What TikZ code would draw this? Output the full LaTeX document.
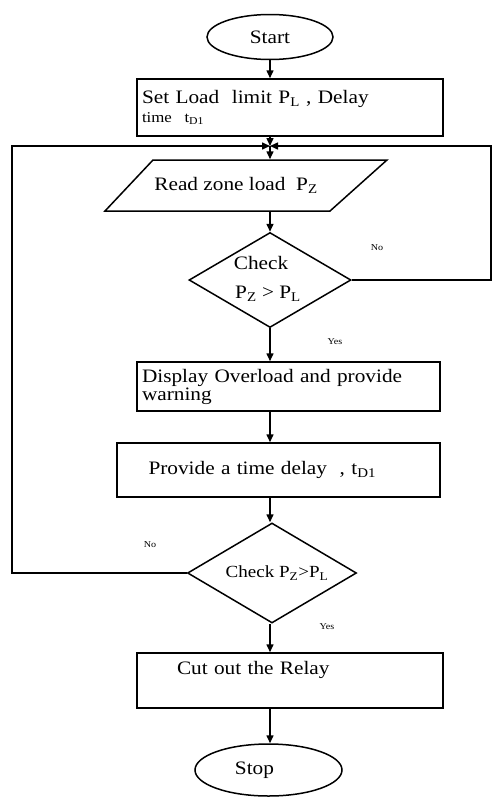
\documentclass[tikz,border=0pt]{standalone}
\usepackage{fontspec}
\setmainfont{Liberation Serif}[FakeStretch=1.12]
\usetikzlibrary{shapes.geometric,arrows.meta}
\begin{document}
\begin{tikzpicture}[x=1pt,y=-1pt,
  line width=1.5pt,
  every node/.style={font=\fontsize{19}{21}\selectfont},
  term/.style={draw,ellipse,inner sep=0pt},
  proc/.style={draw,rectangle,inner sep=0pt},
  dec/.style={draw,diamond,inner sep=0pt},
  txt/.style={inner sep=0pt},
  lbl/.style={inner sep=0pt,font=\fontsize{9}{10}\selectfont},
  arr/.style={-{Triangle[length=8pt,width=7pt]}},
]
\useasboundingbox (0,0) rectangle (493,798);

\node[term,minimum width=126pt,minimum height=45pt] (start) at (270,37) {Start};
\node[proc,minimum width=306pt,minimum height=57pt,text width=296pt,align=left]
  (set) at (290,107.5) {Set Load\ \ limit P\textsubscript{L} , Delay\\[-2pt]{\fontsize{15}{17}\selectfont time\ \ t\textsubscript{D1}}};
\coordinate (m) at (270,146);
\draw (153,160) -- (387,160) -- (330,211) -- (105,211) -- cycle;
\node[txt,minimum height=51pt] (read) at (236,185.5) {Read zone load\ \ P\textsubscript{Z}};
\node[dec,minimum width=162pt,minimum height=95pt] (c1) at (270,280) {};
\node[txt] (c1a) at (261,263) {Check};
\node[txt] (c1b) at (268,294) {P\textsubscript{Z} > P\textsubscript{L}};
\node[proc,minimum width=303pt,minimum height=49pt,text width=293pt,align=left]
  (box2) at (288.5,386.5) {Display Overload and provide\\[-3pt]warning};
\node[proc,minimum width=323pt,minimum height=54pt,text width=292pt,align=left]
  (box3) at (278.5,470) {\hspace*{16pt}Provide a time delay\ \ , t\textsubscript{D1}};
\node[dec,minimum width=169pt,minimum height=100pt] (c2) at (272,573) {};
\node[txt,font=\fontsize{17}{20}\selectfont] (c2t) at (277,573) {Check P\textsubscript{Z}>P\textsubscript{L}};
\node[proc,minimum width=306pt,minimum height=55pt,text width=266pt,align=left]
  (box4) at (290,680.5) {\hspace*{20pt}Cut out the Relay\\[4pt]\mbox{}};
\node[term,minimum width=147pt,minimum height=52pt] (stop) at (268.5,770) {Stop\hspace*{28pt}};

\coordinate (R) at (491,146);
\coordinate (L) at (12,146);

\node[lbl] (no1) at (377,248) {No};
\node[lbl] (yes1) at (335,342) {Yes};
\node[lbl] (no2) at (150,545) {No};
\node[lbl] (yes2) at (327,627) {Yes};

\draw[arr] (start) -- (m |- set.north);
\draw[arr] (m |- set.south) -- (m);
\draw[arr] (m) -- (m |- read.north);
\draw[arr] (m |- read.south) -- (c1.north);
\draw[arr] (c1.east) -| (R) -- (m);
\draw[arr] (c1.south) -- (m |- box2.north);
\draw[arr] (m |- box2.south) -- (m |- box3.north);
\draw[arr] (m |- box3.south) -- (c2.north -| m);
\draw[arr] (c2.west) -| (L) -- (m);
\draw[arr] (c2.south -| m) -- (m |- box4.north);
\draw[arr] (m |- box4.south) -- (m |- stop.north);
\end{tikzpicture}
\end{document}
